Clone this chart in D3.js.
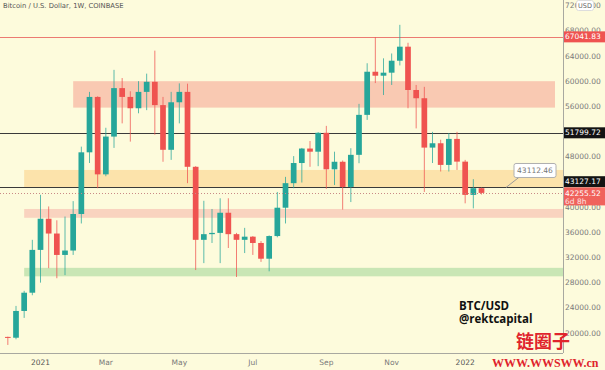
<!DOCTYPE html>
<html>
<head>
<meta charset="utf-8">
<script src="https://cdn.jsdelivr.net/npm/d3@7"></script>
<style>
  html, body { margin: 0; padding: 0; background: #fdfbdc; }
  svg { display: block; }
</style>
</head>
<body>
<svg id="chart" width="605" height="370"></svg>
<script>
// weekly candles, BTC/USD Coinbase
const weekStarts = [
  "2020-12-07", "2020-12-14", "2020-12-21", "2020-12-28",
  "2021-01-04", "2021-01-11", "2021-01-18", "2021-01-25",
  "2021-02-01", "2021-02-08", "2021-02-15", "2021-02-22",
  "2021-03-01", "2021-03-08", "2021-03-15", "2021-03-22", "2021-03-29",
  "2021-04-05", "2021-04-12", "2021-04-19", "2021-04-26",
  "2021-05-03", "2021-05-10", "2021-05-17", "2021-05-24", "2021-05-31",
  "2021-06-07", "2021-06-14", "2021-06-21", "2021-06-28",
  "2021-07-05", "2021-07-12", "2021-07-19", "2021-07-26",
  "2021-08-02", "2021-08-09", "2021-08-16", "2021-08-23", "2021-08-30",
  "2021-09-06", "2021-09-13", "2021-09-20", "2021-09-27",
  "2021-10-04", "2021-10-11", "2021-10-18", "2021-10-25",
  "2021-11-01", "2021-11-08", "2021-11-15", "2021-11-22", "2021-11-29",
  "2021-12-06", "2021-12-13", "2021-12-20", "2021-12-27",
  "2022-01-03", "2022-01-10", "2022-01-17"
];
const opens = [
  19380, 19250, 23500, 26400,
  33200, 38150, 35800, 32400,
  33100, 38900, 48700, 57500,
  45200, 51200, 58900, 57500, 55700,
  58300, 59900, 56200, 49100,
  56650, 58300, 46400, 34800, 35700,
  35900, 39100, 35700, 34800,
  35300, 34300, 31800, 35400,
  39900, 43800, 47000, 49300, 48800,
  51800, 46000, 47200, 43200,
  48300, 54650, 61500, 60870,
  61350, 63250, 65480, 58600, 57290,
  49450, 50140, 46700, 50830,
  47220, 41940, 43000
];
const highs = [
  19420, 24300, 26700, 34800,
  41950, 40100, 37900, 38500,
  40950, 49600, 58300, 57600,
  52600, 61800, 60500, 58400, 60000,
  61200, 64850, 57500, 58300,
  59650, 59600, 46500, 41000, 39700,
  41400, 41400, 35900, 36700,
  35400, 34600, 35500, 42400,
  44800, 48100, 49400, 50500, 51900,
  52900, 48800, 47400, 49350,
  56400, 62850, 67000, 63630,
  64400, 68950, 66100, 59400, 59100,
  51950, 50700, 51750, 51950,
  47500, 44430, 43100
];
const lows = [
  18100, 19000, 22400, 26000,
  28000, 30300, 28700, 29200,
  32400, 37400, 47000, 43000,
  44900, 49400, 53300, 50400, 54900,
  55400, 51500, 47200, 47500,
  53300, 43800, 30000, 31100, 34300,
  31100, 33500, 28900, 32700,
  32400, 31300, 29800, 35200,
  37400, 43000, 43900, 46400, 46500,
  42900, 43500, 39600, 40800,
  46970, 53850, 59700, 57800,
  59400, 62500, 55700, 52500, 42400,
  47000, 45650, 45650, 45900,
  40600, 39800, 42000
];
const closes = [
  19250, 23500, 26400, 33200,
  38150, 35800, 32400, 33100,
  38900, 48700, 57500, 45200,
  51200, 58900, 57500, 55700, 58300,
  59900, 56200, 49100, 56650,
  58300, 46400, 34800, 35700, 35900,
  39100, 35700, 34800, 35300,
  34300, 31800, 35400, 39900,
  43800, 47000, 49300, 48800, 51800,
  46000, 47200, 43200, 48300,
  54650, 61500, 60870, 61350,
  63250, 65480, 58600, 57290, 49450,
  50140, 46700, 50830, 47220,
  41940, 43000, 42255.52
];

// drawn zones: [start week, top price, bottom price]
const zoneNames = ["supply", "range", "lowerBand", "demand"];
const zoneStarts = ["2021-02-01", "2020-12-21", "2020-12-21", "2020-12-21"];
const zoneTops = [60000, 45900, 39700, 30350];
const zoneBottoms = [55800, 43050, 38300, 29000];
const zoneColors = ["#f9c9b2", "#fce3ab", "#f9d3bf", "#c9e6b5"];
const supplyEnd = "2022-03-21";

const levelValues = [67041.83, 51799.72, 43127.17];
const lastPrice = 42255.52;
const countdown = "6d 8h";
const calloutValue = 43112.46;
const calloutDate = "2022-02-07";

// 52000 and 44000 sit fully under the level badges, so they are not listed
const priceTicks = [20000, 24000, 28000, 32000, 36000, 40000, 48000, 56000, 60000, 64000, 68000, 72000];
const timeTickDates = ["2021-01-04", "2021-03-01", "2021-05-03", "2021-07-05", "2021-09-06", "2021-11-01", "2022-01-03"];
const timeTickLabels = ["2021", "Mar", "May", "Jul", "Sep", "Nov", "2022"];

const W = 605, H = 370;
const plotRight = 563, plotBottom = 353;
const font = "DejaVu Sans, Verdana, sans-serif";
const up = "#26a69a", down = "#ef5350";

const parse = d3.utcParse("%Y-%m-%d");
const candles = weekStarts.map((d, i) => ({
  date: parse(d), o: opens[i], h: highs[i], l: lows[i], c: closes[i]
}));

const x = d3.scaleUtc()
  .domain([parse("2021-01-04"), parse("2022-01-17")])
  .range([40.5, 481.5]);
const y = d3.scaleLinear()
  .domain([20000, 64000])
  .range([333, 56]);

const svg = d3.select("#chart");
svg.append("rect").attr("width", W).attr("height", H).attr("fill", "#fdfbdc");

svg.append("defs").append("clipPath").attr("id", "plot")
  .append("rect").attr("width", plotRight).attr("height", plotBottom);

const plot = svg.append("g").attr("clip-path", "url(#plot)");

// zones
plot.append("g").selectAll("rect")
  .data(zoneNames)
  .join("rect")
  .attr("x", (d, i) => x(parse(zoneStarts[i])))
  .attr("y", (d, i) => y(zoneTops[i]))
  .attr("width", (d, i) => (i === 0 ? x(parse(supplyEnd)) : plotRight) - x(parse(zoneStarts[i])))
  .attr("height", (d, i) => y(zoneBottoms[i]) - y(zoneTops[i]))
  .attr("fill", (d, i) => zoneColors[i]);

// horizontal levels
plot.append("g").selectAll("line")
  .data(levelValues)
  .join("line")
  .attr("x1", 0).attr("x2", plotRight)
  .attr("y1", d => Math.round(y(d)) + 0.5)
  .attr("y2", d => Math.round(y(d)) + 0.5)
  .attr("stroke", (d, i) => (i === 0 ? "#ec7a72" : "#3a3a3a"))
  .attr("stroke-width", 1);

// candles
const cw = 5.7;
const cg = plot.append("g").selectAll("g")
  .data(candles)
  .join("g");
cg.append("line")
  .attr("x1", d => x(d.date)).attr("x2", d => x(d.date))
  .attr("y1", d => y(d.h)).attr("y2", d => y(d.l))
  .attr("stroke", d => (d.c >= d.o ? up : down))
  .attr("stroke-opacity", 0.75)
  .attr("stroke-width", 1);
cg.append("rect")
  .attr("x", d => x(d.date) - cw / 2)
  .attr("y", d => y(Math.max(d.o, d.c)))
  .attr("width", cw)
  .attr("height", d => Math.max(1, Math.abs(y(d.o) - y(d.c))))
  .attr("fill", d => (d.c >= d.o ? up : down));

// last price dotted line
plot.append("line")
  .attr("x1", 0).attr("x2", plotRight)
  .attr("y1", Math.round(y(lastPrice)) + 0.5)
  .attr("y2", Math.round(y(lastPrice)) + 0.5)
  .attr("stroke", "#c98a86")
  .attr("stroke-dasharray", "1,2");

// callout
const cx = x(parse(calloutDate)), cy = y(calloutValue);
plot.append("line")
  .attr("x1", cx).attr("y1", cy)
  .attr("x2", cx + 14).attr("y2", cy - 11)
  .attr("stroke", "#9a9a9a");
plot.append("rect")
  .attr("x", cx + 8).attr("y", cy - 24)
  .attr("width", 42).attr("height", 14).attr("rx", 2)
  .attr("fill", "#ffffff").attr("stroke", "#b0b0b0");
plot.append("text")
  .attr("x", cx + 29).attr("y", cy - 14.3)
  .attr("text-anchor", "middle")
  .style("font-family", font).style("font-size", "7.5px")
  .attr("fill", "#777")
  .text(d3.format(".2f")(calloutValue));

// signature
const sig = svg.append("g")
  .style("font-family", "Open Sans, sans-serif")
  .style("font-weight", "bold")
  .style("font-size", "11.5px")
  .attr("fill", "#111");
sig.append("text").attr("x", 459).attr("y", 310).text("BTC/USD");
sig.append("text").attr("x", 459).attr("y", 323).text("@rektcapital");

// axes frame
svg.append("line")
  .attr("x1", plotRight + 0.5).attr("x2", plotRight + 0.5)
  .attr("y1", 0).attr("y2", plotBottom)
  .attr("stroke", "#a8a8a0");
svg.append("line")
  .attr("x1", 0).attr("x2", plotRight)
  .attr("y1", plotBottom + 0.5).attr("y2", plotBottom + 0.5)
  .attr("stroke", "#a8a8a0");

// price axis
svg.append("g").selectAll("text")
  .data(priceTicks)
  .join("text")
  .attr("x", 565)
  .attr("y", d => y(d))
  .attr("dy", "0.35em")
  .style("font-family", font).style("font-size", "7.5px")
  .attr("fill", "#7a7a7a")
  .text(d3.format(".2f"));

// time axis
svg.append("g").selectAll("text")
  .data(timeTickDates)
  .join("text")
  .attr("x", d => x(parse(d)))
  .attr("y", 365)
  .attr("text-anchor", "middle")
  .style("font-family", font).style("font-size", "7.5px")
  .attr("fill", (d, i) => (i === 0 || i === 6 ? "#555" : "#7a7a7a"))
  .text((d, i) => timeTickLabels[i]);

// price labels on the axis
const labelBoxes = [
  { v: levelValues[0], cy: y(levelValues[0]), bg: "#ef5350" },
  { v: levelValues[1], cy: y(levelValues[1]), bg: "#131313" },
  { v: levelValues[2], cy: 181.7, bg: "#131313" }
];
const lb = svg.append("g").selectAll("g").data(labelBoxes).join("g");
lb.append("rect")
  .attr("x", plotRight + 1).attr("y", d => d.cy - 5.5)
  .attr("width", W - plotRight).attr("height", 11)
  .attr("fill", d => d.bg);
lb.append("text")
  .attr("x", 565).attr("y", d => d.cy).attr("dy", "0.35em")
  .style("font-family", font).style("font-size", "7.5px")
  .attr("fill", "#fff")
  .text(d => d3.format(".2f")(d.v));

const lastY = y(lastPrice);
svg.append("rect")
  .attr("x", plotRight + 1).attr("y", lastY - 5.5)
  .attr("width", W - plotRight).attr("height", 18)
  .attr("fill", "#f0625c");
svg.append("text")
  .attr("x", 565).attr("y", lastY).attr("dy", "0.35em")
  .style("font-family", font).style("font-size", "7.5px")
  .attr("fill", "#fff")
  .text(d3.format(".2f")(lastPrice));
svg.append("text")
  .attr("x", 565).attr("y", lastY + 8).attr("dy", "0.35em")
  .style("font-family", font).style("font-size", "7.5px")
  .attr("fill", "#fde4e2")
  .text(countdown);

// currency badge
svg.append("rect")
  .attr("x", 576.5).attr("y", 0.5).attr("width", 17).attr("height", 10).attr("rx", 2)
  .attr("fill", "#fff").attr("stroke", "#ddd");
svg.append("text")
  .attr("x", 585).attr("y", 6).attr("dy", "0.35em")
  .attr("text-anchor", "middle")
  .style("font-family", font).style("font-size", "6.5px")
  .attr("fill", "#666")
  .text("USD");

// title
svg.append("text")
  .attr("x", 3).attr("y", 8.3)
  .style("font-family", font).style("font-size", "6.8px")
  .attr("fill", "#555")
  .text("Bitcoin / U.S. Dollar, 1W, COINBASE");

// site watermark
svg.append("text")
  .attr("x", 516).attr("y", 348)
  .style("font-family", "Noto Sans CJK SC, sans-serif")
  .style("font-weight", "bold").style("font-size", "18px")
  .attr("fill", "#e0242c")
  .text("链圈子");
svg.append("text")
  .attr("x", 492).attr("y", 367)
  .style("font-family", "Liberation Serif, serif")
  .style("font-weight", "bold").style("font-size", "12px")
  .attr("fill", "#e0242c")
  .text("WWW.WWSWW.cn");
</script>
</body>
</html>
